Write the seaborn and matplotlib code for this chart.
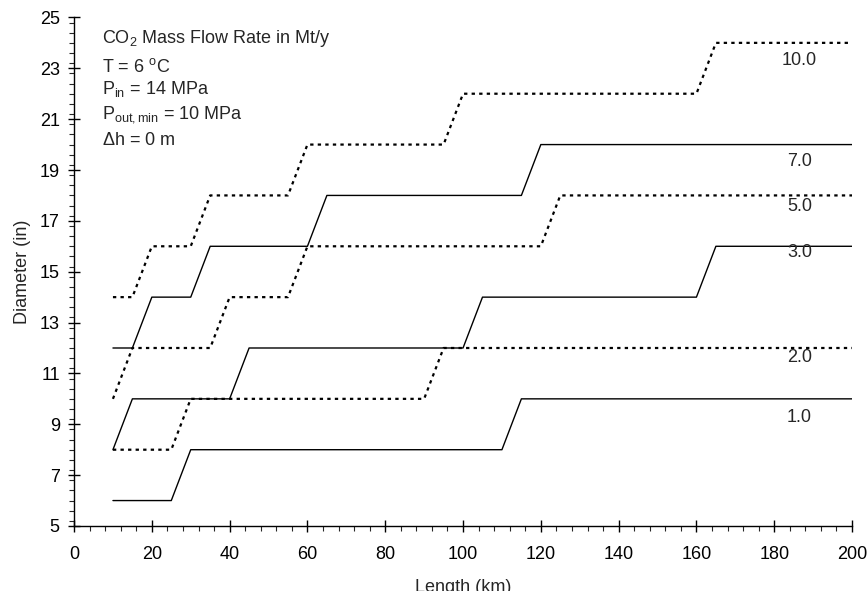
import numpy as np
import pandas as pd
import matplotlib
matplotlib.use("Agg")
import matplotlib.pyplot as plt
from matplotlib.ticker import MultipleLocator
import seaborn as sns

# Pipeline diameter steps along the route for each CO2 mass flow rate (Mt/y)
len_1 = [10, 25, 30, 110, 115, 200]
dia_1 = [6, 6, 8, 8, 10, 10]

len_2 = [10, 25, 30, 90, 95, 200]
dia_2 = [8, 8, 10, 10, 12, 12]

len_3 = [10, 15, 40, 45, 100, 105, 160, 165, 200]
dia_3 = [8, 10, 10, 12, 12, 14, 14, 16, 16]

len_5 = [10, 15, 35, 40, 55, 60, 120, 125, 200]
dia_5 = [10, 12, 12, 14, 14, 16, 16, 18, 18]

len_7 = [10, 15, 20, 30, 35, 60, 65, 115, 120, 200]
dia_7 = [12, 12, 14, 14, 16, 16, 18, 18, 20, 20]

len_10 = [10, 15, 20, 30, 35, 55, 60, 95, 100, 160, 165, 200]
dia_10 = [14, 14, 16, 16, 18, 18, 20, 20, 22, 22, 24, 24]

flow_labels = ["1.0", "2.0", "3.0", "5.0", "7.0", "10.0"]
label_y = [9.28, 11.64, 15.77, 17.58, 19.35, 23.3]

info_lines = [
    r"CO$_2$ Mass Flow Rate in Mt/y",
    r"T = 6 $^{\mathrm{o}}$C",
    r"P$_{\mathrm{in}}$ = 14 MPa",
    r"P$_{\mathrm{out,min}}$ = 10 MPa",
    r"$\Delta$h = 0 m",
]
info_baselines = [24.0, 22.85, 22.0, 21.02, 19.98]

series = [
    (len_1, dia_1, "solid"),
    (len_2, dia_2, "dotted"),
    (len_3, dia_3, "solid"),
    (len_5, dia_5, "dotted"),
    (len_7, dia_7, "solid"),
    (len_10, dia_10, "dotted"),
]

sns.set_style("ticks")
plt.rcParams["font.family"] = ["Liberation Sans", "DejaVu Sans"]
plt.rcParams["mathtext.fontset"] = "custom"
plt.rcParams["mathtext.rm"] = "Liberation Sans"
plt.rcParams["mathtext.it"] = "Liberation Sans:italic"
plt.rcParams["mathtext.bf"] = "Liberation Sans:bold"

FS = 13

fig = plt.figure(figsize=(8.68, 5.91), dpi=100)
ax = fig.add_axes([0.0853, 0.110, 0.8963, 0.8605])

for (xs, ys, kind), name in zip(series, flow_labels):
    df = pd.DataFrame({"Length (km)": xs, "Diameter (in)": ys})
    if kind == "solid":
        sns.lineplot(data=df, x="Length (km)", y="Diameter (in)", ax=ax,
                     color="black", linewidth=1.0, estimator=None, sort=False)
    else:
        sns.lineplot(data=df, x="Length (km)", y="Diameter (in)", ax=ax,
                     color="black", linewidth=1.6, estimator=None, sort=False)
        ax.lines[-1].set_linestyle((0, (1.5, 1.9)))

for name, yl in zip(flow_labels, label_y):
    ax.text(186.5, yl, name, ha="center", va="center", fontsize=FS)

for line, yb in zip(info_lines, info_baselines):
    ax.text(7.3, yb, line, ha="left", va="baseline", fontsize=FS)

ax.set_xlim(0, 200)
ax.set_ylim(5, 25)
ax.xaxis.set_major_locator(MultipleLocator(20))
ax.xaxis.set_minor_locator(MultipleLocator(4))
ax.set_yticks(np.arange(5, 26, 2))
ax.yaxis.set_minor_locator(MultipleLocator(0.4))

ax.tick_params(which="major", direction="inout", length=8.5, width=1.0,
               labelsize=FS, colors="black")
ax.tick_params(axis="y", which="major", pad=6)
ax.tick_params(axis="x", which="major", pad=10)
ax.tick_params(which="minor", direction="out", length=3.5, width=0.8)

ax.set_xlabel("Length (km)", fontsize=FS, labelpad=12)
ax.set_ylabel("Diameter (in)", fontsize=FS, labelpad=6)

sns.despine(ax=ax)
for side in ("left", "bottom"):
    ax.spines[side].set_linewidth(1.0)
    ax.spines[side].set_color("black")

fig.savefig("out.png", dpi=100)
